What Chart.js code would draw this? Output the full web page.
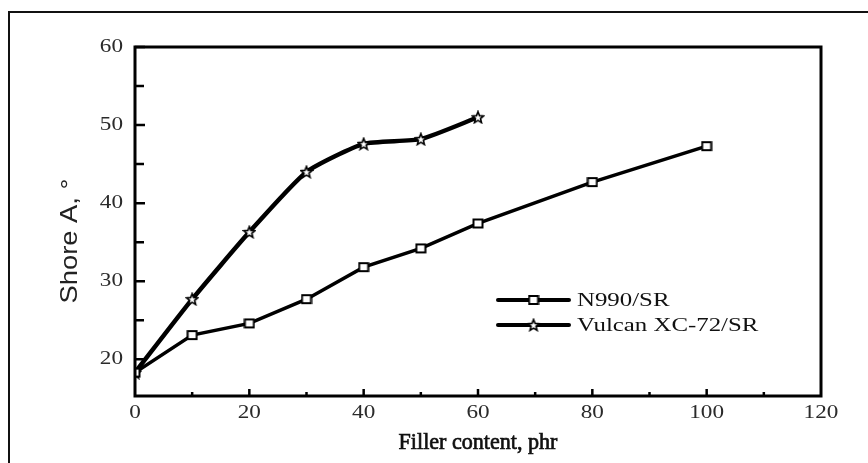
<!DOCTYPE html>
<html>
<head>
<meta charset="utf-8">
<script src="https://cdn.jsdelivr.net/npm/chart.js@4"></script>
<style>
  html, body { margin: 0; padding: 0; background: #fff; }
  #wrap { position: relative; width: 868px; height: 463px; overflow: hidden; }
  #frame { position: absolute; left: 8px; top: 11px; width: 900px; height: 500px;
           border-top: 2px solid #111; border-left: 2px solid #111; }
  canvas { position: absolute; left: 0; top: 0; }
</style>
</head>
<body>
<div id="wrap">
  <div id="frame"></div>
  <canvas id="chart" width="868" height="463"></canvas>
</div>
<script>
// Shore A hardness vs filler loading
const n990X = [0, 10, 20, 30, 40, 50, 60, 80, 100];
const n990Y = [18.3, 23.1, 24.6, 27.7, 31.8, 34.2, 37.4, 42.7, 47.3];
const vulcanX = [0, 10, 20, 30, 40, 50, 60];
const vulcanY = [18.3, 27.7, 36.3, 44.0, 47.6, 48.2, 51.0];
const seriesNames = ['N990/SR', 'Vulcan XC-72/SR'];
const xTicks = [0, 20, 40, 60, 80, 100, 120];
const xMinor = [10, 30, 50, 70, 90, 110];
const yTicks = [20, 30, 40, 50, 60];
const yMinor = [25, 35, 45, 55];
const xTitle = 'Filler content, phr';
const yTitle = 'Shore A, °';

const serif = '"Liberation Serif", "DejaVu Serif", serif';

function makeSquare() {
  const c = document.createElement('canvas');
  c.width = 12; c.height = 12;
  const g = c.getContext('2d');
  g.fillStyle = '#fff';
  g.strokeStyle = '#000';
  g.lineWidth = 2;
  g.fillRect(1.5, 2, 9, 8);
  g.strokeRect(1.5, 2, 9, 8);
  return c;
}

function makeStar() {
  const c = document.createElement('canvas');
  c.width = 14; c.height = 14;
  const g = c.getContext('2d');
  g.beginPath();
  for (let i = 0; i < 10; i++) {
    const r = i % 2 === 0 ? 6 : 2.6;
    const a = -Math.PI / 2 + i * Math.PI / 5;
    const px = 7 + r * Math.cos(a), py = 7.5 + r * Math.sin(a);
    if (i === 0) g.moveTo(px, py); else g.lineTo(px, py);
  }
  g.closePath();
  g.fillStyle = '#fff';
  g.fill();
  g.strokeStyle = '#000';
  g.lineWidth = 1.6;
  g.stroke();
  return c;
}

const squareImg = makeSquare();
const starImg = makeStar();

// text stretched sideways, like the scanned figure
function wideText(ctx, text, x, y, align, sx, outline) {
  ctx.save();
  ctx.translate(x, y);
  ctx.scale(sx, 1);
  ctx.textAlign = align;
  ctx.fillText(text, 0, 0);
  if (outline) {
    ctx.lineWidth = outline;
    ctx.strokeStyle = ctx.fillStyle;
    ctx.strokeText(text, 0, 0);
  }
  ctx.restore();
}

// box, inward ticks, labels and inline legend
const frameBits = {
  id: 'frameBits',
  afterDatasetsDraw(chart) {
    const { ctx, chartArea: a, scales } = chart;
    const xs = scales.x, ys = scales.y;
    ctx.save();
    ctx.strokeStyle = '#000';
    ctx.lineWidth = 3;
    ctx.strokeRect(a.left, a.top, a.right - a.left, a.bottom - a.top);

    ctx.lineWidth = 2.5;
    ctx.beginPath();
    yTicks.forEach(v => { const y = ys.getPixelForValue(v); ctx.moveTo(a.left, y); ctx.lineTo(a.left + 10, y); });
    yMinor.forEach(v => { const y = ys.getPixelForValue(v); ctx.moveTo(a.left, y); ctx.lineTo(a.left + 9, y); });
    xTicks.slice(1, -1).forEach(v => { const x = xs.getPixelForValue(v); ctx.moveTo(x, a.bottom); ctx.lineTo(x, a.bottom - 7); });
    xMinor.forEach(v => { const x = xs.getPixelForValue(v); ctx.moveTo(x, a.bottom); ctx.lineTo(x, a.bottom - 4); });
    ctx.stroke();

    // tick labels
    ctx.fillStyle = '#2a2a2a';
    ctx.textBaseline = 'middle';
    ctx.font = '19px ' + serif;
    xTicks.forEach(v => wideText(ctx, String(v), xs.getPixelForValue(v), a.bottom + 17, 'center', 1.22));
    yTicks.forEach(v => wideText(ctx, String(v), a.left - 12, ys.getPixelForValue(v), 'right', 1.22));

    // axis titles
    ctx.fillStyle = '#111';
    ctx.font = '23px ' + serif;
    wideText(ctx, xTitle, (a.left + a.right) / 2, 443, 'center', 0.96, 0.7);
    ctx.save();
    ctx.translate(70, 241);
    ctx.rotate(-Math.PI / 2);
    ctx.font = '24px "Liberation Sans", sans-serif';
    ctx.fillStyle = '#222';
    wideText(ctx, yTitle, 0, 0, 'center', 1.14);
    ctx.restore();

    // legend
    const lx = xs.getPixelForValue(63.5), lw = 71;
    const rows = [
      { y: ys.getPixelForValue(27.6), img: squareImg },
      { y: ys.getPixelForValue(24.4), img: starImg }
    ];
    ctx.font = '18px ' + serif;
    ctx.fillStyle = '#111';
    ctx.strokeStyle = '#000';
    rows.forEach((r, i) => {
      ctx.lineWidth = 4;
      ctx.lineCap = 'round';
      ctx.beginPath();
      ctx.moveTo(lx, r.y); ctx.lineTo(lx + lw, r.y);
      ctx.stroke();
      ctx.drawImage(r.img, lx + lw / 2 - r.img.width / 2, r.y - r.img.height / 2);
      wideText(ctx, seriesNames[i], lx + lw + 8, r.y + 1, 'left', 1.38);
    });
    ctx.restore();
  }
};

new Chart(document.getElementById('chart'), {
  type: 'line',
  data: {
    datasets: [{
      label: seriesNames[0],
      data: n990X.map((x, i) => ({ x, y: n990Y[i] })),
      borderColor: '#000',
      borderWidth: 3.5,
      pointStyle: squareImg,
      tension: 0,
      fill: false
    }, {
      label: seriesNames[1],
      data: vulcanX.map((x, i) => ({ x, y: vulcanY[i] })),
      borderColor: '#000',
      borderWidth: 4.5,
      pointStyle: starImg,
      tension: 0.18,
      fill: false
    }]
  },
  options: {
    responsive: false,
    animation: false,
    layout: { padding: { top: 47, right: 47, left: 0, bottom: 0 } },
    plugins: {
      legend: { display: false },
      tooltip: { enabled: false }
    },
    scales: {
      x: {
        type: 'linear',
        min: 0, max: 120,
        afterBuildTicks: s => { s.ticks = xTicks.map(v => ({ value: v })); },
        afterFit: s => { s.height = 67; },
        grid: { display: false, drawTicks: false },
        border: { display: false },
        ticks: { display: false }
      },
      y: {
        min: 15.3, max: 60,
        afterBuildTicks: s => { s.ticks = yTicks.map(v => ({ value: v })); },
        afterFit: s => { s.width = 135; },
        grid: { display: false, drawTicks: false },
        border: { display: false },
        ticks: { display: false }
      }
    }
  },
  plugins: [frameBits]
});
</script>
</body>
</html>
